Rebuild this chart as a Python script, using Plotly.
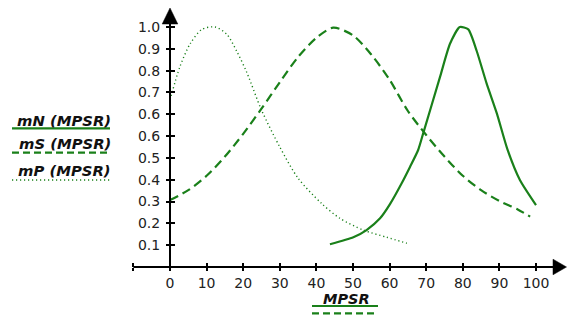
import plotly.graph_objects as go

# ---- data (x in MPSR units, y in axis-position units: tick k sits at k/11) ----
x_ticks = [-10, 0, 10, 20, 30, 40, 50, 60, 70, 80, 90, 100]
x_tick_labels = ["", "0", "10", "20", "30", "40", "50", "60", "70", "80", "90", "100"]
y_ticks = [k / 11 for k in range(1, 12)]
y_tick_labels = ["0.1", "0.2", "0.3", "0.4", "0.5", "0.6", "0.6", "0.7", "0.8", "0.9", "1.0"]

mP_x = [0, 2.7, 5.5, 8.7, 12.3, 15.5, 18.2, 21, 25, 30, 35, 41.4, 46.4, 52.8, 59.2, 64.7]
mP_y = [0.696, 0.834, 0.93, 0.99, 1.0, 0.97, 0.90, 0.81, 0.654, 0.50, 0.37, 0.265, 0.203, 0.154, 0.124, 0.099]

mS_x = [0, 5, 10, 15, 20, 25, 30, 35, 40, 44.6, 50, 55, 60, 65, 70, 75, 80, 85, 90, 95, 98.4]
mS_y = [0.279, 0.32, 0.38, 0.46, 0.555, 0.66, 0.77, 0.875, 0.955, 0.997, 0.965, 0.885, 0.78, 0.65, 0.55, 0.46, 0.38, 0.32, 0.275, 0.24, 0.21]

mN_x = [43.7, 50.1, 53.7, 57.4, 60.1, 63.3, 65.6, 67.8, 69.2, 73.8, 76.5, 79.2, 81.5, 83.8, 86.5, 89.3, 92.2, 95.6, 100]
mN_y = [0.095, 0.124, 0.154, 0.203, 0.262, 0.349, 0.418, 0.4875, 0.558, 0.793, 0.93, 1.0, 0.99, 0.90, 0.765, 0.64, 0.49, 0.3625, 0.258]

legend_names = ["mN (MPSR)", "mS (MPSR)", "mP (MPSR)"]
x_title = "MPSR"

# ---- styling ----
W, H = 567, 318
GREEN = "#1a801a"
FONT = "DejaVu Sans"
X0PX, KX = 170.0, 3.66        # pixel of x=0, px per unit
Y0PX, KY = 267.0, 240.0       # pixel of y=0, px per unit
xr = [(0 - X0PX) / KX, (W - X0PX) / KX]
yr = [(Y0PX - H) / KY, Y0PX / KY]
DOT = "1.2px,2.8px"

fig = go.Figure()
fig.add_trace(go.Scatter(x=mP_x, y=mP_y, mode="lines", line=dict(color=GREEN, width=1.4, dash=DOT, shape="spline", smoothing=0.8)))
fig.add_trace(go.Scatter(x=mS_x, y=mS_y, mode="lines", line=dict(color=GREEN, width=2.2, dash="9px,5px", shape="spline", smoothing=0.8)))
fig.add_trace(go.Scatter(x=mN_x, y=mN_y, mode="lines", line=dict(color=GREEN, width=2.2, shape="spline", smoothing=0.6)))

# invisible trace to activate overlay axes (inside ticks)
fig.add_trace(go.Scatter(x=[0], y=[0], xaxis="x2", yaxis="y2", mode="markers", marker=dict(opacity=0), hoverinfo="skip"))

ypos_x = (H - Y0PX) / H
xpos_y = X0PX / W
TF = dict(family=FONT, size=14, color="#222")

common = dict(showgrid=False, zeroline=False, showline=False, automargin=False, tickmode="array",
              tickwidth=2, tickcolor="black")
fig.update_layout(
    width=W, height=H, margin=dict(l=0, r=0, t=0, b=0, autoexpand=False),
    paper_bgcolor="white", plot_bgcolor="white", showlegend=False,
    font=dict(family=FONT, size=14, color="#222"),
    xaxis=dict(range=xr, domain=[0, 1], anchor="free", position=ypos_x, tickvals=x_ticks, ticktext=x_tick_labels,
               ticks="outside", ticklen=3, ticklabelstandoff=0, tickfont=TF, **common),
    yaxis=dict(range=yr, domain=[0, 1], anchor="free", position=xpos_y, tickvals=y_ticks, ticktext=y_tick_labels,
               ticks="outside", ticklen=4, ticklabelstandoff=3, tickfont=TF, **common),
    xaxis2=dict(range=xr, overlaying="x", anchor="free", position=ypos_x, tickvals=x_ticks, ticks="inside",
                ticklen=4, showticklabels=False, **common),
    yaxis2=dict(range=yr, overlaying="y", anchor="free", position=xpos_y, tickvals=y_ticks, ticks="inside",
                ticklen=4, showticklabels=False, **common),
)

# axis lines and arrowheads (data coords)
ax_dx = 7.8 / KX
ax_dy = 7.8 / KY
fig.add_shape(type="line", x0=-10, y0=0, x1=(560 - X0PX) / KX, y1=0, line=dict(color="black", width=2))
fig.add_shape(type="line", x0=0, y0=0, x1=0, y1=(Y0PX - 16) / KY, line=dict(color="black", width=2))
xb, xt = (553 - X0PX) / KX, (566.5 - X0PX) / KX
fig.add_shape(type="path", path=f"M {xb},{ax_dy} L {xt},0 L {xb},{-ax_dy} Z",
              fillcolor="black", line=dict(color="black", width=0.5))
yb, yt = (Y0PX - 24) / KY, (Y0PX - 8) / KY
fig.add_shape(type="path", path=f"M {-ax_dx},{yb} L 0,{yt} L {ax_dx},{yb} Z",
              fillcolor="black", line=dict(color="black", width=0.5))

# legend (paper coords, y measured from top)
def py(p):
    return 1 - p / H
def px(p):
    return p / W

leg_text_y = [120.7, 143.3, 170.0]
leg_line_y = [128.3, 152.7, 180.0]
leg_dash = ["solid", "7px,4px", DOT]
leg_width = [2.2, 2.2, 1.4]
for name, ty, ly, d, w in zip(legend_names, leg_text_y, leg_line_y, leg_dash, leg_width):
    fig.add_annotation(x=px(113), y=py(ty), xref="paper", yref="paper", text=f"<b><i>{name}</i></b>",
                       showarrow=False, xanchor="right", yanchor="middle",
                       font=dict(family=FONT, size=14.8, color="#111"))
    fig.add_shape(type="line", xref="paper", yref="paper", x0=px(12), x1=px(110), y0=py(ly), y1=py(ly),
                  line=dict(color=GREEN, width=w, dash=d))

# x-axis title with series samples
fig.add_annotation(x=px(346), y=py(298.5), xref="paper", yref="paper", text=f"<b><i>{x_title}</i></b>",
                   showarrow=False, xanchor="center", yanchor="middle",
                   font=dict(family=FONT, size=14.5, color="#111"))
fig.add_shape(type="line", xref="paper", yref="paper", x0=px(312), x1=px(378), y0=py(306), y1=py(306),
              line=dict(color=GREEN, width=2.2))
fig.add_shape(type="line", xref="paper", yref="paper", x0=px(312), x1=px(378), y0=py(313.3), y1=py(313.3),
              line=dict(color=GREEN, width=2.2, dash="7px,4px"))

fig.write_html("out.html", config={"displayModeBar": False},
               post_script="document.body.style.margin='0';document.body.style.overflow='hidden';")
